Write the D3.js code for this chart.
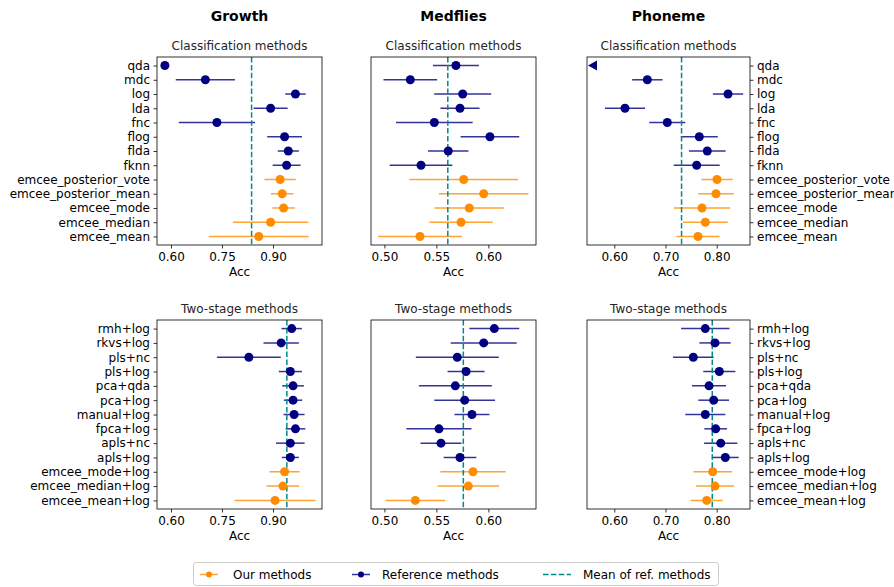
<!DOCTYPE html>
<html>
<head>
<meta charset="utf-8">
<script src="https://cdn.jsdelivr.net/npm/d3@7"></script>
<style>
  html, body { margin: 0; padding: 0; background: #fff; }
  svg { display: block; font-family: "DejaVu Sans", sans-serif; }
</style>
</head>
<body>
<svg id="chart" width="894" height="587"></svg>
<script>
// ---- data -------------------------------------------------------------
const datasets = ["Growth", "Medflies", "Phoneme"];

const classMethods = ["qda", "mdc", "log", "lda", "fnc", "flog", "flda", "fknn",
  "emcee_posterior_vote", "emcee_posterior_mean", "emcee_mode", "emcee_median", "emcee_mean"];
const twoStageMethods = ["rmh+log", "rkvs+log", "pls+nc", "pls+log", "pca+qda", "pca+log",
  "manual+log", "fpca+log", "apls+nc", "apls+log", "emcee_mode+log", "emcee_median+log", "emcee_mean+log"];

// mean accuracy and standard deviation, in the order of the method lists above
const growthClassAcc = [0.582, 0.701, 0.966, 0.893, 0.735, 0.934, 0.945, 0.940, 0.921, 0.927, 0.931, 0.893, 0.858];
const growthClassStd = [0.000, 0.087, 0.030, 0.050, 0.112, 0.051, 0.031, 0.041, 0.046, 0.033, 0.033, 0.111, 0.147];
const growthTwoAcc = [0.955, 0.924, 0.829, 0.951, 0.959, 0.959, 0.962, 0.966, 0.951, 0.951, 0.934, 0.929, 0.906];
const growthTwoStd = [0.030, 0.052, 0.094, 0.034, 0.032, 0.027, 0.031, 0.029, 0.042, 0.025, 0.044, 0.048, 0.119];

const medfliesClassAcc = [0.5688, 0.5249, 0.5753, 0.5727, 0.5480, 0.6015, 0.5614, 0.5352, 0.5763, 0.5955, 0.5816, 0.5737, 0.5342];
const medfliesClassStd = [0.0221, 0.0258, 0.0274, 0.0188, 0.0369, 0.0282, 0.0194, 0.0301, 0.0523, 0.0430, 0.0333, 0.0304, 0.0404];
const medfliesTwoAcc = [0.6057, 0.5955, 0.5701, 0.5785, 0.5682, 0.5772, 0.5842, 0.5525, 0.5544, 0.5727, 0.5852, 0.5807, 0.5297];
const medfliesTwoStd = [0.0240, 0.0317, 0.0399, 0.0178, 0.0351, 0.0292, 0.0168, 0.0313, 0.0197, 0.0157, 0.0314, 0.0296, 0.0286];

// qda could not be fitted on Phoneme (no value)
const phonemeClassAcc = [null, 0.6645, 0.8221, 0.6209, 0.7035, 0.7660, 0.7816, 0.7609, 0.8006, 0.7986, 0.7713, 0.7777, 0.7635];
const phonemeClassStd = [null, 0.0297, 0.0296, 0.0391, 0.0352, 0.0361, 0.0358, 0.0449, 0.0306, 0.0345, 0.0550, 0.0437, 0.0420];
const phonemeTwoAcc = [0.7777, 0.7967, 0.7543, 0.8051, 0.7850, 0.7941, 0.7777, 0.7980, 0.8078, 0.8168, 0.7922, 0.7967, 0.7805];
const phonemeTwoStd = [0.0472, 0.0306, 0.0396, 0.0313, 0.0332, 0.0300, 0.0391, 0.0222, 0.0325, 0.0261, 0.0377, 0.0371, 0.0313];

// axis limits and tick labels per dataset column
const growthLimits = [0.5588, 1.0441];
const medfliesLimits = [0.4871, 0.6458];
const phonemeLimits = [0.5467, 0.8650];
const growthTicks = [0.60, 0.75, 0.90];
const medfliesTicks = [0.50, 0.55, 0.60];
const phonemeTicks = [0.60, 0.70, 0.80];

const rowTitles = ["Classification methods", "Two-stage methods"];
const legendLabels = ["Our methods", "Reference methods", "Mean of ref. methods"];

// ---- styling ----------------------------------------------------------
const OURS = "#ff8c00";
const REF = "#000080";
const MEAN = "#008b8b";
const FONT = 12;

const panels = [
  { col: 0, row: 0, methods: classMethods, acc: growthClassAcc, std: growthClassStd },
  { col: 0, row: 1, methods: twoStageMethods, acc: growthTwoAcc, std: growthTwoStd },
  { col: 1, row: 0, methods: classMethods, acc: medfliesClassAcc, std: medfliesClassStd },
  { col: 1, row: 1, methods: twoStageMethods, acc: medfliesTwoAcc, std: medfliesTwoStd },
  { col: 2, row: 0, methods: classMethods, acc: phonemeClassAcc, std: phonemeClassStd },
  { col: 2, row: 1, methods: twoStageMethods, acc: phonemeTwoAcc, std: phonemeTwoStd }
];
const limits = [growthLimits, medfliesLimits, phonemeLimits];
const ticks = [growthTicks, medfliesTicks, phonemeTicks];

const colLeft = [157, 371, 587];
const colWidth = [165, 165, 163];
const rowTop = [57, 320];
const rowHeight = [188, 189];

const svg = d3.select("#chart");

const isOurs = m => m.startsWith("emcee");

function styleAxis(a) {
  a.select(".domain").remove();
  a.selectAll("line").attr("stroke", "#000").attr("stroke-width", 0.8);
  a.selectAll("text").attr("font-size", FONT).attr("fill", "#000")
    .attr("font-family", "DejaVu Sans, sans-serif");
}

// column titles
datasets.forEach((name, c) => {
  svg.append("text")
    .attr("x", colLeft[c] + colWidth[c] / 2)
    .attr("y", 21)
    .attr("text-anchor", "middle")
    .attr("font-size", 14)
    .attr("font-weight", "bold")
    .attr("fill", "#000")
    .text(name);
});

panels.forEach(p => {
  const x0 = colLeft[p.col], w = colWidth[p.col];
  const y0 = rowTop[p.row], h = rowHeight[p.row];
  const g = svg.append("g");

  const x = d3.scaleLinear().domain(limits[p.col]).range([x0, x0 + w]);
  const y = d3.scalePoint().domain(p.methods).range([y0, y0 + h]).padding(0.6);

  // subplot title
  g.append("text")
    .attr("x", x0 + w / 2)
    .attr("y", y0 - 7)
    .attr("text-anchor", "middle")
    .attr("font-size", FONT)
    .attr("fill", "#262626")
    .text(rowTitles[p.row]);

  // x axis
  const xAxis = d3.axisBottom(x).tickValues(ticks[p.col]).tickFormat(d3.format(".2f"))
    .tickSize(3.5).tickPadding(3.5);
  styleAxis(g.append("g").attr("transform", `translate(0,${y0 + h})`).call(xAxis));

  // method names on the outer columns only
  if (p.col === 0) {
    styleAxis(g.append("g").attr("transform", `translate(${x0},0)`)
      .call(d3.axisLeft(y).tickSize(3.5).tickPadding(3.5)));
  } else if (p.col === 2) {
    styleAxis(g.append("g").attr("transform", `translate(${x0 + w},0)`)
      .call(d3.axisRight(y).tickSize(3.5).tickPadding(3.5)));
  }

  g.append("text")
    .attr("x", x0 + w / 2)
    .attr("y", y0 + h + 31)
    .attr("text-anchor", "middle")
    .attr("font-size", FONT)
    .attr("fill", "#000")
    .text("Acc");

  const clip = "clip-" + p.col + "-" + p.row;
  svg.append("clipPath").attr("id", clip)
    .append("rect").attr("x", x0).attr("y", y0).attr("width", w).attr("height", h);
  const plot = g.append("g").attr("clip-path", `url(#${clip})`);

  const rows = p.methods.map((m, i) => ({ m, acc: p.acc[i], std: p.std[i] }));

  // mean over the reference methods
  const refMean = d3.mean(rows.filter(r => !isOurs(r.m) && r.acc != null), r => r.acc);

  // error bars
  plot.selectAll("line.err")
    .data(rows.filter(r => r.acc != null && r.std > 0))
    .join("line")
    .attr("x1", r => x(r.acc - r.std))
    .attr("x2", r => x(r.acc + r.std))
    .attr("y1", r => y(r.m))
    .attr("y2", r => y(r.m))
    .attr("stroke", r => isOurs(r.m) ? OURS : REF)
    .attr("stroke-opacity", 0.8)
    .attr("stroke-width", 1.5);

  // mean line
  plot.append("line")
    .attr("x1", x(refMean)).attr("x2", x(refMean))
    .attr("y1", y0).attr("y2", y0 + h)
    .attr("stroke", MEAN)
    .attr("stroke-width", 1.5)
    .attr("stroke-dasharray", "5.5,2.4");

  // points
  plot.selectAll("circle")
    .data(rows.filter(r => r.acc != null))
    .join("circle")
    .attr("cx", r => x(r.acc))
    .attr("cy", r => y(r.m))
    .attr("r", 4.5)
    .attr("fill", r => isOurs(r.m) ? OURS : REF);

  // methods with no value: marker on the left edge
  rows.filter(r => r.acc == null).forEach(r => {
    const cx = x0 + 6, cy = y(r.m);
    plot.append("path")
      .attr("d", `M${cx - 5},${cy} L${cx + 4},${cy - 5} L${cx + 4},${cy + 5} Z`)
      .attr("fill", REF);
  });

  // frame
  g.append("rect")
    .attr("x", x0).attr("y", y0).attr("width", w).attr("height", h)
    .attr("fill", "none").attr("stroke", "#000").attr("stroke-width", 0.8);
});

// legend
const lg = svg.append("g");
lg.append("rect")
  .attr("x", 193.5).attr("y", 562.5).attr("width", 525).attr("height", 23)
  .attr("rx", 3).attr("fill", "#fff").attr("stroke", "#ccc").attr("stroke-width", 1);

const legendItems = [
  { label: legendLabels[0], color: OURS, kind: "point", x: 200, tx: 233 },
  { label: legendLabels[1], color: REF, kind: "point", x: 352, tx: 382 },
  { label: legendLabels[2], color: MEAN, kind: "dash", x: 543, tx: 583 }
];
legendItems.forEach(it => {
  const cy = 574.5;
  if (it.kind === "point") {
    lg.append("line").attr("x1", it.x).attr("x2", it.x + 18).attr("y1", cy).attr("y2", cy)
      .attr("stroke", it.color).attr("stroke-opacity", 0.8).attr("stroke-width", 1.5);
    lg.append("circle").attr("cx", it.x + 9).attr("cy", cy).attr("r", 3).attr("fill", it.color);
  } else {
    lg.append("line").attr("x1", it.x).attr("x2", it.x + 28).attr("y1", cy).attr("y2", cy)
      .attr("stroke", it.color).attr("stroke-width", 1.5).attr("stroke-dasharray", "5.5,2.4");
  }
  lg.append("text")
    .attr("x", it.tx)
    .attr("y", cy + 4.5)
    .attr("font-size", FONT)
    .attr("fill", "#000")
    .text(it.label);
});
</script>
</body>
</html>
